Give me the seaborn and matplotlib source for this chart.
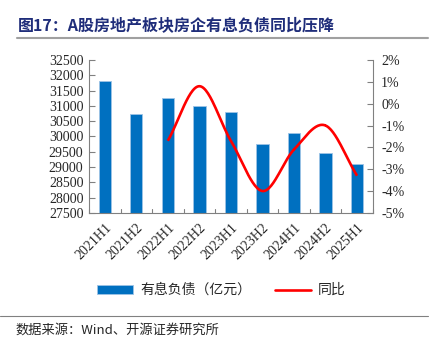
import numpy as np
import pandas as pd
import matplotlib
matplotlib.use('Agg')
import matplotlib.pyplot as plt
from matplotlib.lines import Line2D
from matplotlib.patches import Patch
from matplotlib.ticker import FuncFormatter
import seaborn as sns

# Data
periods = ['2021H1', '2021H2', '2022H1', '2022H2', '2023H1',
           '2023H2', '2024H1', '2024H2', '2025H1']
debt = [31800, 30750, 31270, 31000, 30800, 29760, 30110, 29450, 29110]
yoy_periods = ['2022H1', '2022H2', '2023H1', '2023H2', '2024H1', '2024H2', '2025H1']
yoy = [-1.7, 0.8, -1.7, -4.0, -2.1, -1.0, -3.3]

sns.set_style('white')
plt.rcParams['font.family'] = ['Liberation Serif', 'Noto Sans CJK SC', 'DejaVu Sans']
cjk = ['Noto Sans CJK SC', 'DejaVu Sans']

fig = plt.figure(figsize=(4.34, 3.53), dpi=100)
ax = fig.add_axes([0.205, 0.397, 0.654, 0.433])

df = pd.DataFrame({'period': periods, 'debt': debt})
sns.barplot(data=df, x='period', y='debt', ax=ax, color='#0070C0',
            width=0.39, edgecolor='#9DC3E6', linewidth=0.6, saturation=1)
ax.set_ylim(27500, 32500)
ax.set_yticks(np.arange(27500, 32501, 500))
ax.set_xlim(-0.5, len(periods) - 0.5)
ax.set_xlabel('')
ax.set_ylabel('')

# smoothed yoy line (Catmull-Rom through the points, like Excel's smoothing)
ax2 = ax.twinx()
xi = np.array([periods.index(p) for p in yoy_periods], dtype=float)
yi = np.array(yoy)
px = np.concatenate([[2 * xi[0] - xi[1]], xi, [2 * xi[-1] - xi[-2]]])
py = np.concatenate([[2 * yi[0] - yi[1]], yi, [2 * yi[-1] - yi[-2]]])
sx, sy = [], []
t = np.linspace(0, 1, 30)
for i in range(1, len(px) - 2):
    for arr, out in ((px, sx), (py, sy)):
        p0, p1, p2, p3 = arr[i - 1], arr[i], arr[i + 1], arr[i + 2]
        out.extend(0.5 * (2 * p1 + (-p0 + p2) * t
                          + (2 * p0 - 5 * p1 + 4 * p2 - p3) * t ** 2
                          + (-p0 + 3 * p1 - 3 * p2 + p3) * t ** 3))
ax2.plot(sx, sy, color='#FF0000', lw=1.9, solid_capstyle='butt')
ax2.set_ylim(-5, 2)
ax2.set_yticks(np.arange(-5, 2.1, 1))
ax2.yaxis.set_major_formatter(FuncFormatter(lambda v, p: f'{v:.0f}%'))

# axes styling
for a in (ax, ax2):
    for s in a.spines.values():
        s.set_color('#808080')
        s.set_linewidth(0.8)
    a.spines['top'].set_visible(False)
ax2.spines['left'].set_visible(False)
ax2.spines['bottom'].set_visible(False)
ax.spines['right'].set_visible(False)

ax.tick_params(axis='y', direction='in', length=4, width=0.8, color='#808080',
               labelsize=10, pad=4, left=True)
ax2.tick_params(axis='y', direction='in', length=4, width=0.8, color='#808080',
                labelsize=10, pad=6, right=True)
ax.set_xticks(np.arange(len(periods)))
ax.set_xticklabels(periods, rotation=45, ha='right', rotation_mode='anchor', fontsize=10)
ax.tick_params(axis='x', length=0, pad=6)
for b in np.arange(-0.5, len(periods), 1.0):
    ax.plot([b, b], [27500, 27500 + 5000 * 4 / 153], color='#808080', lw=0.8,
            clip_on=False, transform=ax.transData)

# title and rules
fig.text(0.042, 0.928, '图17：A股房地产板块房企有息负债同比压降', fontsize=11.5,
         fontweight='bold', color='#1F2D7A', family=cjk, va='center')
fig.add_artist(Line2D([0.04, 0.986], [0.892, 0.892], color='#A0A0A0', lw=1.5))
fig.add_artist(Line2D([0.0, 0.986], [0.105, 0.105], color='#808080', lw=0.8))
fig.text(0.035, 0.065, '数据来源：Wind、开源证券研究所', fontsize=9.5,
         family=cjk, va='center')

handles = [Patch(facecolor='#0070C0', edgecolor='#9DC3E6', lw=0.6),
           Line2D([], [], color='#FF0000', lw=1.9)]
leg = fig.legend(handles, ['有息负债（亿元）', '同比'], loc='center',
                 bbox_to_anchor=(0.51, 0.178), ncol=2, frameon=False,
                 prop={'family': cjk, 'size': 10}, handlelength=2.6,
                 handleheight=0.6, columnspacing=1.7, handletextpad=0.5)

fig.savefig('out.png', dpi=100)
